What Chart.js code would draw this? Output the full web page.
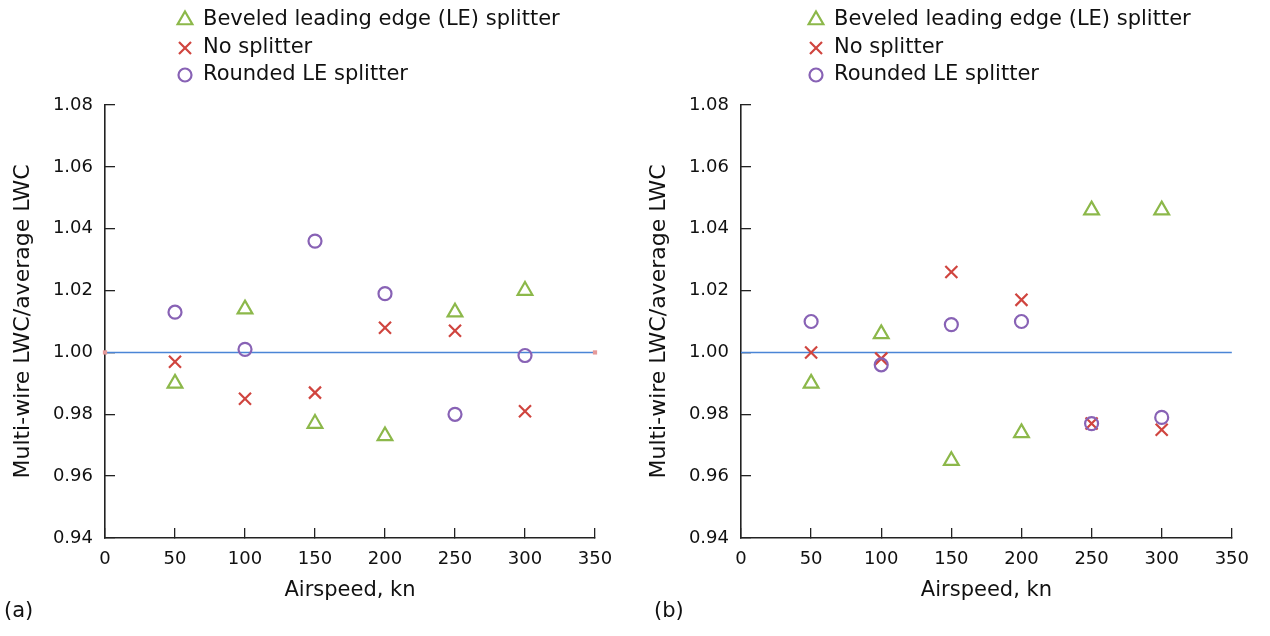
<!DOCTYPE html>
<html>
<head>
<meta charset="utf-8">
<script src="https://cdn.jsdelivr.net/npm/chart.js@4"></script>
<style>
  body { margin: 0; background: #fff; overflow: hidden; }
  canvas { position: absolute; top: 0; }
  #chartA { left: 0; }
  #chartB { left: 635px; }
</style>
</head>
<body>
<canvas id="chartA" width="635" height="636"></canvas>
<canvas id="chartB" width="635" height="636"></canvas>
<script>
// data
const airspeed = [50, 100, 150, 200, 250, 300];
const seriesNames = ['Beveled leading edge (LE) splitter', 'No splitter', 'Rounded LE splitter'];

// panel (a)
const beveledA = [0.990, 1.014, 0.977, 0.973, 1.013, 1.020];
const noSplitterA = [0.997, 0.985, 0.987, 1.008, 1.007, 0.981];
const roundedA = [1.013, 1.001, 1.036, 1.019, 0.980, 0.999];

// panel (b)
const beveledB = [0.990, 1.006, 0.965, 0.974, 1.046, 1.046];
const noSplitterB = [1.000, 0.998, 1.026, 1.017, 0.977, 0.975];
const roundedB = [1.010, 0.996, 1.009, 1.010, 0.977, 0.979];

const refLine = [1.0, 1.0];
const refX = [0, 350];

const xTicks = [0, 50, 100, 150, 200, 250, 300, 350];
const yTicks = [0.94, 0.96, 0.98, 1.00, 1.02, 1.04, 1.06, 1.08];

const FONT = "'DejaVu Sans', sans-serif";
const green = '#8cb84a';
const red = '#d0453f';
const purple = '#8862b5';
const blue = '#4a85d6';
const axisColor = '#222';

function toPoints(xs, ys) {
    return xs.map((x, i) => ({ x: x, y: ys[i] }));
}

// draws the three-row legend and the panel letter
const legendPlugin = {
    id: 'stackLegend',
    afterDraw(chart, args, opts) {
        const ctx = chart.ctx;
        ctx.save();
        const styles = [
            { pointStyle: 'triangle', color: green, radius: 8.5 },
            { pointStyle: 'crossRot', color: red, radius: 8.5 },
            { pointStyle: 'circle', color: purple, radius: 6.5 }
        ];
        const rowsY = [20, 48, 75];
        seriesNames.forEach((name, i) => {
            const y = rowsY[i];
            ctx.strokeStyle = styles[i].color;
            ctx.fillStyle = 'rgba(0,0,0,0)';
            ctx.lineWidth = 2.2;
            Chart.helpers.drawPoint(ctx, {
                pointStyle: styles[i].pointStyle,
                radius: styles[i].radius,
                rotation: 0,
                borderWidth: 2.2
            }, opts.legendX, y);
            ctx.fillStyle = '#111';
            ctx.font = '21px ' + FONT;
            ctx.textBaseline = 'middle';
            ctx.textAlign = 'left';
            ctx.fillText(name, opts.legendX + 18, y);
        });
        ctx.font = '21px ' + FONT;
        ctx.fillStyle = '#111';
        ctx.textBaseline = 'middle';
        ctx.fillText(opts.letter, opts.letterX, 612);
        ctx.restore();
    }
};

function makeChart(id, beveled, none, rounded, opts) {
    const ctx = document.getElementById(id).getContext('2d');
    return new Chart(ctx, {
        type: 'scatter',
        data: {
            datasets: [
                {
                    label: seriesNames[0],
                    data: toPoints(airspeed, beveled),
                    pointStyle: 'triangle',
                    pointRadius: 8.5,
                    borderColor: green,
                    backgroundColor: 'rgba(0,0,0,0)',
                    pointBorderWidth: 2.2,
                    order: 1
                },
                {
                    label: seriesNames[1],
                    data: toPoints(airspeed, none),
                    pointStyle: 'crossRot',
                    pointRadius: 8.5,
                    borderColor: red,
                    backgroundColor: 'rgba(0,0,0,0)',
                    pointBorderWidth: 2.2,
                    order: 2
                },
                {
                    label: seriesNames[2],
                    data: toPoints(airspeed, rounded),
                    pointStyle: 'circle',
                    pointRadius: 6.5,
                    borderColor: purple,
                    backgroundColor: 'rgba(0,0,0,0)',
                    pointBorderWidth: 2.2,
                    order: 0
                },
                {
                    type: 'line',
                    label: 'ref',
                    data: toPoints(refX, refLine),
                    borderColor: blue,
                    borderWidth: 1.6,
                    pointStyle: 'rect',
                    pointRadius: opts.endMarks ? 3 : 0,
                    pointBackgroundColor: '#e59a9a',
                    pointBorderWidth: 0,
                    clip: false,
                    order: 10
                }
            ]
        },
        options: {
            responsive: false,
            animation: false,
            layout: {
                padding: { top: 105, right: opts.rightPad, bottom: 33, left: 0 }
            },
            scales: {
                x: {
                    type: 'linear',
                    min: 0,
                    max: 350,
                    afterBuildTicks: (scale) => { scale.ticks = xTicks.map(v => ({ value: v })); },
                    afterFit: (scale) => { scale.height = 65; },
                    grid: { drawOnChartArea: false, drawTicks: true, tickLength: -10, color: axisColor, lineWidth: 1.3 },
                    border: { display: true, color: axisColor, width: 1.6 },
                    ticks: { color: '#111', font: { family: FONT, size: 18 }, padding: 21, maxRotation: 0 },
                    title: { display: true, text: 'Airspeed, kn', color: '#111', font: { family: FONT, size: 21 }, padding: { top: 0, bottom: 0 } }
                },
                y: {
                    type: 'linear',
                    min: 0.94,
                    max: 1.08,
                    afterBuildTicks: (scale) => { scale.ticks = yTicks.map(v => ({ value: v })); },
                    afterFit: (scale) => { scale.width = opts.yWidth; },
                    grid: { drawOnChartArea: false, drawTicks: true, tickLength: -10, color: axisColor, lineWidth: 1.3 },
                    border: { display: true, color: axisColor, width: 1.6 },
                    ticks: { color: '#111', font: { family: FONT, size: 18 }, padding: 22, callback: (v) => Number(v).toFixed(2) },
                    title: { display: true, text: 'Multi-wire LWC/average LWC', color: '#111', font: { family: FONT, size: 22 }, padding: { top: opts.yTitlePad, bottom: 0 } }
                }
            },
            plugins: {
                legend: { display: false },
                tooltip: { enabled: false },
                stackLegend: { legendX: opts.legendX, letter: opts.letter, letterX: opts.letterX }
            }
        },
        plugins: [legendPlugin]
    });
}

makeChart('chartA', beveledA, noSplitterA, roundedA,
    { rightPad: 40, yWidth: 105, yTitlePad: 10, legendX: 185, letter: '(a)', letterX: 4, endMarks: true });
makeChart('chartB', beveledB, noSplitterB, roundedB,
    { rightPad: 32, yWidth: 106, yTitlePad: 11, legendX: 181, letter: '(b)', letterX: 19, endMarks: false });
</script>
</body>
</html>
